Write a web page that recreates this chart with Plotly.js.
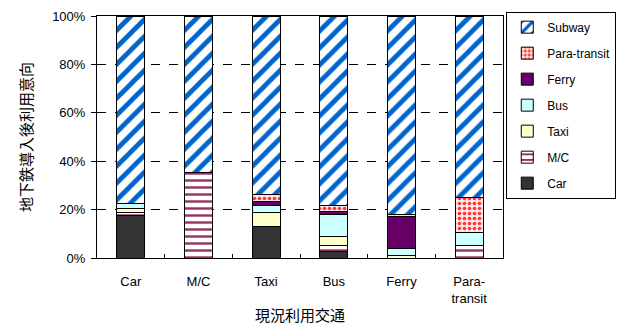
<!DOCTYPE html>
<html><head><meta charset="utf-8">
<script src="https://cdn.plot.ly/plotly-3.0.1.min.js"></script>
<style>html,body{margin:0;padding:0;background:#fff}#c{width:628px;height:325px}</style>
</head><body><div id="c"></div>
<script>
const categories = ["Car", "M/C", "Taxi", "Bus", "Ferry", "Para-<br>transit"];
const seriesNames = ["Car", "M/C", "Taxi", "Bus", "Ferry", "Para-transit", "Subway"];
const car        = [17.5,  0,   13.0, 2.8, 0,    0];
const mc         = [1.2,  35.5,  0,   2.2, 0,    5.0];
const taxi       = [1.8,   0,    5.7, 3.7, 1.2,  0];
const bus        = [2.0,   0,    2.8, 9.3, 2.9,  5.7];
const ferry      = [0,     0,    1.8, 1.1, 13.0, 0];
const paratransit= [0,     0,    2.8, 2.7, 1.0, 14.2];
const subway     = [77.5, 64.5, 73.9, 78.2, 81.9, 75.1];
const yTickVals = [0, 20, 40, 60, 80, 100];
const yTickText = ["0%", "20%", "40%", "60%", "80%", "100%"];

const values = [car, mc, taxi, bus, ferry, paratransit, subway];
const styles = [
  {color:"#333333", pattern:{shape:""}},
  {color:"#ffffff", pattern:{shape:"-", fgcolor:"#993366", bgcolor:"#ffffff", size:7, solidity:0.35}},
  {color:"#FFFFCC", pattern:{shape:""}},
  {color:"#CCFFFF", pattern:{shape:""}},
  {color:"#660066", pattern:{shape:""}},
  {color:"#ffffff", pattern:{shape:".", fgcolor:"#FF3333", bgcolor:"#FFE8E8", size:5, solidity:0.4}},
  {color:"#ffffff", pattern:{shape:"/", fgcolor:"#0066CC", bgcolor:"#ffffff", size:12, solidity:0.4}}
];
const traces = values.map((v, i) => ({
  type: "bar",
  name: seriesNames[i],
  x: categories,
  y: v,
  legendgroup: "g" + i,
  legendrank: 100 - i,
  marker: Object.assign({line:{color:"#000000", width:1}}, styles[i])
}));
const latin = "Liberation Sans, Arial, sans-serif";
const cjk = "Noto Sans CJK JP, sans-serif";
const layout = {
  width: 628, height: 325,
  margin: {l: 97, r: 119, t: 12.5, b: 66.5},
  barmode: "stack",
  bargap: 0.59,
  paper_bgcolor: "#fff", plot_bgcolor: "#fff",
  font: {family: latin, size: 13, color: "#000"},
  showlegend: true,
  legend: {
    x: 1.279, xanchor: "right", y: 1.018, yanchor: "top",
    traceorder: "grouped", tracegroupgap: 7, itemwidth: 30, maxheight: 260,
    bordercolor: "#000", borderwidth: 1, font: {family: latin, size: 12, color: "#000"}
  },
  xaxis: {
    showline: true, linecolor: "#000", linewidth: 1, mirror: true,
    ticks: "inside", tickson: "boundaries", ticklen: 4, tickcolor: "#000",
    ticklabelstandoff: 11,
    tickfont: {family: latin, size: 13}, title: {text: "現況利用交通", font: {family: cjk, size: 15}, standoff: 5}
  },
  yaxis: {
    range: [0, 100], tickvals: yTickVals, ticktext: yTickText,
    showline: true, linecolor: "#000", linewidth: 1, mirror: true,
    ticks: "outside", ticklen: 5, tickcolor: "#000",
    ticklabelstandoff: 3,
    showgrid: true, gridcolor: "#000", griddash: "dash", gridwidth: 1,
    zeroline: false, tickfont: {family: latin, size: 13},
    title: {text: "地下鉄導入後利用意向", font: {family: cjk, size: 15}, standoff: 15}
  }
};
Plotly.newPlot("c", traces, layout, {displayModeBar: false, staticPlot: true});
</script></body></html>
